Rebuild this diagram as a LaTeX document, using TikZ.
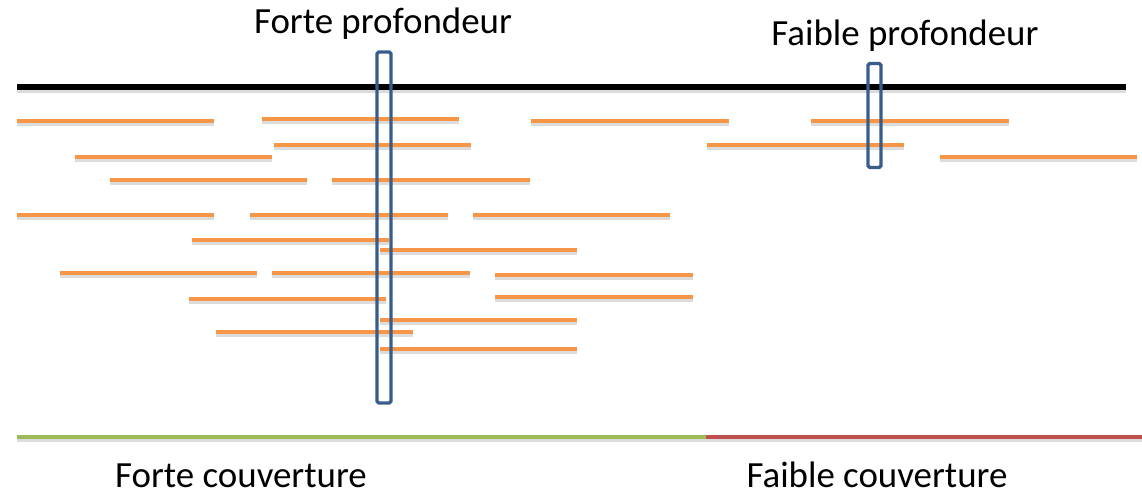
\documentclass[tikz,border=0pt]{standalone}
\usepackage{fontspec}
\setmainfont{Carlito}
\begin{document}
\begin{tikzpicture}[x=0.02cm,y=-0.02cm,
  read/.style={draw=orangeC,line width=2.5pt},
  shadowline/.style={draw=black!30,line width=2.6pt,opacity=0.45},
  probe/.style={draw=blueC,line width=1.9pt,rounded corners=1pt},
  lab/.style={font=\fontsize{21}{25}\selectfont,inner sep=0pt}]
\definecolor{orangeC}{HTML}{F79646}
\definecolor{blueC}{HTML}{385D8A}
\definecolor{greenC}{HTML}{9BBB59}
\definecolor{redC}{HTML}{C0504D}
\useasboundingbox (0,0) rectangle (1142,497);
% reference line
\coordinate (refL) at (17,87);
\coordinate (refR) at (1126,87);
\draw[black!30,line width=3.2pt,opacity=0.45] ([yshift=-3*0.02cm]refL) -- ([yshift=-3*0.02cm]refR);
\draw[black,line width=3.2pt] (refL) -- (refR);
% reads
\foreach \i/\xa/\xb/\y in {
 1/17/214/121, 2/262/459/119, 3/531/729/121, 4/811/1009/121,
 5/75/272/157, 6/274/471/145, 7/707/904/145, 8/940/1137/157,
 9/110/307/180, 10/332/530/180, 11/17/214/215, 12/250/448/215,
 13/473/670/215, 14/192/389/240, 15/380/577/250, 16/60/257/273,
 17/272/470/273, 18/495/693/275, 19/495/693/297, 20/189/386/299,
 21/380/577/320, 22/216/413/332, 23/380/577/349}{
  \coordinate (r\i a) at (\xa,\y);
  \coordinate (r\i b) at (\xb,\y);
  \draw[shadowline] ([yshift=-2.5*0.02cm]r\i a) -- ([yshift=-2.5*0.02cm]r\i b);
  \draw[read] (r\i a) -- (r\i b);
}
% probes
\node[probe,minimum width=14*0.02cm,minimum height=351*0.02cm,inner sep=0pt] (probeA) at (384,227.5) {};
\node[probe,minimum width=13*0.02cm,minimum height=104*0.02cm,inner sep=0pt] (probeB) at (874.5,115.5) {};
% coverage line
\coordinate (covL) at (17,437);
\coordinate (covM) at (706,437);
\coordinate (covR) at (1142,437);
\draw[black!30,line width=2.5pt,opacity=0.45] ([yshift=-3*0.02cm]covL) -- ([yshift=-3*0.02cm]covR);
\draw[greenC,line width=2.5pt] (covL) -- (covM);
\draw[redC,line width=2.5pt] (covM) -- (covR);
% labels
\node[lab] (tA) at (383,24) {Forte profondeur};
\node[lab] (tB) at (905,36) {Faible profondeur};
\node[lab] (tC) at (241,476) {Forte couverture};
\node[lab] (tD) at (877,475) {Faible couverture};
\end{tikzpicture}
\end{document}
